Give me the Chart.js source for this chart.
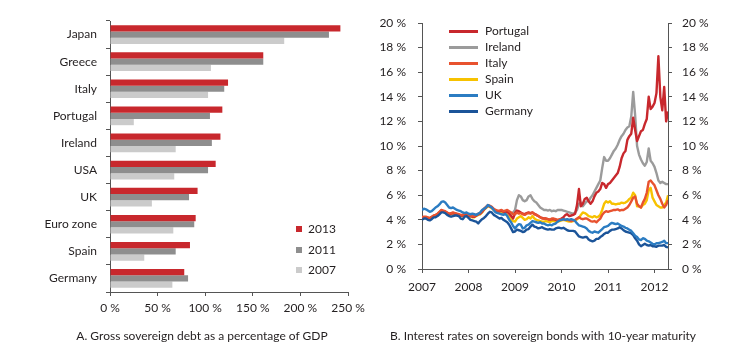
<!DOCTYPE html>
<html><head><meta charset="utf-8">
<script src="https://cdn.jsdelivr.net/npm/chart.js@4.4.1/dist/chart.umd.min.js"></script>
<style>
html,body{margin:0;padding:0;background:#fff;}
body{width:730px;height:357px;position:relative;overflow:hidden;font-family:Lato,sans-serif;color:#231f20;}
#wrapA{position:absolute;left:0;top:0;width:370px;height:357px;}
#wrapB{position:absolute;left:370px;top:0;width:360px;height:357px;}
.title{position:absolute;top:328px;font-size:12px;line-height:15px;white-space:nowrap;transform:translateX(-50%);}
.legA{position:absolute;left:296px;font-size:12px;line-height:14px;height:14px;}
.legA span{position:absolute;left:0;top:4px;width:6px;height:6px;}
.legA b{position:absolute;left:12px;top:0;font-weight:normal;}
.legB{position:absolute;left:449px;font-size:12px;line-height:14px;height:14px;white-space:nowrap;}
.legB span{position:absolute;left:0;top:6px;width:29px;height:3px;}
.legB b{position:absolute;left:36px;top:0;font-weight:normal;}
</style></head>
<body>
<div id="wrapA"><canvas id="cA" width="370" height="357"></canvas></div>
<div id="wrapB"><canvas id="cB" width="360" height="357"></canvas></div>
<div class="title" style="left:202px">A. Gross sovereign debt as a percentage of GDP</div>
<div class="title" style="left:543px">B. Interest rates on sovereign bonds with 10-year maturity</div>
<div id="legendA"></div>
<div id="legendB"></div>
<script>
// ---- Panel A data ----
const countries = ['Japan','Greece','Italy','Portugal','Ireland','USA','UK','Euro zone','Spain','Germany'];
const debt2013 = [242,161,124,118,116,111,92,90,84,78];
const debt2011 = [230,161,120,105,107,103,83,88.5,69,82];
const debt2007 = [183,106,103,25,69,67.5,44,66.5,36,65.5];
const debtTicks = [0,50,100,150,200,250];

// ---- Panel B data (semi-monthly, Jan 2007 - mid Apr 2012) ----
const years = [2007,2008,2009,2010,2011,2012];
const dates = Array.from({length:128},(_, i)=>2007 + i/24);
const portugal = [
 4.15,4.2,4.2,4.15,4.1,4.2,4.3,4.35,4.45,4.6,4.75,4.7,4.65,4.55,4.45,4.5,4.55,4.5,4.45,4.4,4.35,4.35,4.45,4.5,
 4.35,4.3,4.25,4.25,4.35,4.45,4.5,4.65,4.85,5.0,5.15,5.1,5.0,4.85,4.75,4.7,4.7,4.75,4.65,4.65,4.65,4.5,4.3,4.1,
 4.55,4.75,4.7,4.6,4.5,4.45,4.55,4.6,4.55,4.6,4.5,4.4,4.3,4.2,4.15,4.1,4.1,4.05,4.0,4.05,4.05,4.0,3.95,4.0,
 4.1,4.2,4.4,4.45,4.3,4.35,4.4,4.5,5.2,6.5,5.1,5.3,5.7,5.8,5.5,5.3,5.5,5.9,6.2,6.3,6.5,7.0,6.9,6.6,
 6.9,7.0,7.2,7.4,7.6,7.8,8.3,9.0,9.4,9.6,10.5,10.8,11.0,12.3,11.3,10.4,10.8,11.2,11.3,11.8,12.2,14.0,13.0,13.2,
 13.5,14.3,17.3,14.0,12.9,14.8,12.0,12.8];
const ireland = [
 4.15,4.2,4.2,4.15,4.1,4.2,4.3,4.35,4.45,4.6,4.75,4.7,4.65,4.55,4.45,4.5,4.55,4.5,4.45,4.4,4.35,4.35,4.45,4.5,
 4.35,4.3,4.25,4.25,4.35,4.45,4.5,4.65,4.85,5.0,5.15,5.1,5.0,4.85,4.75,4.7,4.7,4.75,4.65,4.7,4.7,4.6,4.5,4.6,
 4.8,5.6,6.0,5.9,5.6,5.5,5.6,5.9,6.0,5.7,5.5,5.4,5.2,5.0,4.9,4.8,4.8,4.75,4.8,4.7,4.75,4.7,4.8,4.8,
 4.8,4.75,4.7,4.65,4.6,4.55,4.5,4.6,4.8,5.3,5.4,5.1,5.3,5.5,5.5,5.8,6.0,6.3,6.6,6.9,7.2,8.2,9.1,8.8,
 8.8,9.0,9.3,9.6,9.8,10.1,10.5,10.8,11.0,11.3,11.5,11.6,12.4,14.4,12.5,10.0,9.3,8.9,8.6,8.4,8.7,9.8,8.8,8.6,
 8.3,7.8,7.2,7.0,7.1,7.0,6.9,6.9];
const italy = [
 4.2,4.25,4.25,4.2,4.15,4.25,4.35,4.4,4.5,4.65,4.8,4.75,4.7,4.6,4.5,4.55,4.6,4.55,4.5,4.45,4.4,4.4,4.5,4.55,
 4.4,4.35,4.3,4.3,4.4,4.5,4.55,4.7,4.9,5.05,5.2,5.15,5.05,4.9,4.8,4.75,4.75,4.8,4.7,4.75,4.8,4.7,4.6,4.45,
 4.45,4.6,4.5,4.55,4.45,4.4,4.5,4.55,4.5,4.6,4.45,4.4,4.3,4.2,4.1,4.1,4.1,4.05,4.0,4.1,4.1,4.05,4.0,4.05,
 4.0,4.05,4.0,4.0,3.95,3.9,3.95,4.0,4.1,4.2,4.1,4.05,4.1,4.1,4.0,3.9,3.85,3.9,3.8,3.95,4.1,4.4,4.6,4.7,
 4.65,4.7,4.75,4.8,4.8,4.85,4.75,4.8,4.8,4.9,5.0,5.2,5.5,5.8,5.9,5.3,5.1,5.0,5.4,5.7,6.2,7.1,7.2,7.0,
 6.8,6.4,6.0,5.7,5.3,5.0,5.2,5.6];
const spain = [
 4.1,4.15,4.15,4.1,4.05,4.15,4.25,4.3,4.4,4.55,4.7,4.65,4.6,4.5,4.4,4.45,4.5,4.45,4.4,4.35,4.3,4.3,4.4,4.45,
 4.3,4.25,4.2,4.2,4.3,4.4,4.45,4.6,4.8,4.95,5.1,5.05,4.95,4.8,4.7,4.65,4.6,4.65,4.55,4.5,4.4,4.2,4.0,3.9,
 3.85,4.1,4.2,4.3,4.15,4.0,4.05,4.2,4.1,4.3,4.1,4.0,3.95,3.9,3.85,3.85,3.9,3.85,3.8,3.9,3.9,3.85,3.85,3.9,
 3.95,4.0,3.95,3.9,3.85,3.85,3.9,3.95,4.05,4.15,4.4,4.6,4.55,4.45,4.3,4.25,4.2,4.3,4.2,4.25,4.4,4.8,5.3,5.5,
 5.4,5.5,5.3,5.3,5.25,5.3,5.3,5.4,5.35,5.4,5.5,5.7,5.8,6.2,6.0,5.1,5.1,5.0,5.2,5.3,5.6,6.4,6.6,5.8,
 5.5,5.2,5.1,5.0,5.0,5.2,5.4,6.0];
const uk = [
 4.8,4.9,4.85,4.75,4.65,4.7,4.85,5.0,5.1,5.25,5.45,5.5,5.4,5.2,5.0,4.95,5.0,4.9,4.8,4.75,4.7,4.6,4.55,4.6,
 4.5,4.45,4.5,4.45,4.4,4.5,4.6,4.8,4.9,5.0,5.2,5.1,5.0,4.8,4.6,4.55,4.5,4.45,4.4,4.5,4.3,4.0,3.8,3.5,
 3.3,3.5,3.65,3.6,3.3,3.35,3.55,3.6,3.75,3.9,3.85,3.8,3.75,3.8,3.7,3.7,3.6,3.55,3.6,3.55,3.65,3.7,3.85,3.95,
 4.0,4.05,4.0,4.05,4.0,4.05,4.0,3.9,3.7,3.55,3.5,3.45,3.4,3.3,3.1,3.0,2.95,3.05,3.0,2.95,3.1,3.25,3.4,3.45,
 3.5,3.65,3.75,3.7,3.65,3.7,3.6,3.5,3.45,3.35,3.3,3.2,3.1,2.9,2.7,2.6,2.4,2.35,2.5,2.45,2.3,2.25,2.15,2.05,
 2.0,2.1,2.1,2.15,2.2,2.3,2.1,2.1];
const germany = [
 4.0,4.1,4.1,4.0,3.95,4.05,4.2,4.2,4.3,4.45,4.6,4.6,4.55,4.4,4.3,4.25,4.3,4.35,4.35,4.3,4.1,4.05,4.25,4.3,
 4.15,4.0,3.95,3.9,3.85,3.7,3.9,4.05,4.15,4.3,4.5,4.65,4.6,4.4,4.3,4.2,4.1,4.15,4.0,3.9,3.8,3.6,3.3,3.0,
 3.05,3.2,3.15,3.1,3.0,3.05,3.2,3.25,3.45,3.6,3.45,3.4,3.3,3.35,3.4,3.3,3.25,3.2,3.25,3.2,3.2,3.3,3.35,3.35,
 3.3,3.35,3.25,3.15,3.1,3.1,3.1,3.05,2.85,2.65,2.6,2.55,2.6,2.6,2.4,2.3,2.25,2.3,2.45,2.45,2.6,2.7,2.85,2.95,
 2.95,3.1,3.2,3.2,3.25,3.3,3.4,3.3,3.15,3.05,3.0,2.95,2.9,2.75,2.5,2.3,2.0,1.85,1.95,2.05,1.95,1.9,1.95,1.85,
 1.85,1.8,1.9,1.9,1.9,1.95,1.8,1.75];
const rateTicks = [0,2,4,6,8,10,12,14,16,18,20];

const FONT = {family:'Lato', size:12};
const TXT = '#231f20';
const AX = '#555555';

// ---- Panel A ----
const barSeries = [
  {label:'2013', data:debt2013, color:'#c8282d'},
  {label:'2011', data:debt2011, color:'#8e8e8e'},
  {label:'2007', data:debt2007, color:'#cbcbcb'}
];
new Chart(document.getElementById('cA'), {
  type:'bar',
  data:{labels:countries, datasets:barSeries.map(s=>({label:s.label,data:s.data,backgroundColor:s.color,borderWidth:0,categoryPercentage:0.69,barPercentage:1.0}))},
  options:{
    indexAxis:'y', responsive:false, animation:false,
    layout:{padding:{top:21,right:22,left:0,bottom:0}},
    plugins:{legend:{display:false}, tooltip:{enabled:false}},
    scales:{
      x:{min:debtTicks[0], max:debtTicks[debtTicks.length-1],
         afterBuildTicks:s=>{s.ticks = debtTicks.map(v=>({value:v}));},
         ticks:{callback:v=>v+' %', color:TXT, font:FONT, padding:5, maxRotation:0},
         grid:{drawOnChartArea:false, drawTicks:true, tickLength:4, color:AX},
         border:{color:AX, width:1},
         afterFit:s=>{s.height=65;}},
      y:{ticks:{color:TXT, font:FONT, padding:9},
         grid:{offset:true, drawOnChartArea:false, drawTicks:true, tickLength:4, color:AX},
         border:{color:AX, width:1},
         afterFit:s=>{s.width=110;}}
    }
  }
});
const legA = document.getElementById('legendA');
barSeries.forEach((s,i)=>{
  const d = document.createElement('div');
  d.className='legA'; d.style.top = (222 + i*20.5)+'px';
  d.innerHTML = '<span style="background:'+s.color+'"></span><b>'+s.label+'</b>';
  legA.appendChild(d);
});

// ---- Panel B ----
const lineSeries = [
  {label:'Portugal', data:portugal, color:'#c8282d', order:3},
  {label:'Ireland', data:ireland, color:'#9b9b9b', order:4},
  {label:'Italy', data:italy, color:'#e8522f', order:2},
  {label:'Spain', data:spain, color:'#f7c200', order:5},
  {label:'UK', data:uk, color:'#2b7cc2', order:0},
  {label:'Germany', data:germany, color:'#1b5499', order:1}
];
const yAxisCommon = {
  min:0, max:20,
  afterBuildTicks:s=>{s.ticks = rateTicks.map(v=>({value:v}));},
  grid:{drawOnChartArea:false, drawTicks:true, tickLength:4, color:AX},
  border:{color:AX, width:1}
};
new Chart(document.getElementById('cB'), {
  type:'line',
  data:{datasets:lineSeries.map(s=>({label:s.label, order:s.order,
     data:dates.map((d,i)=>({x:d, y:s.data[i]})),
     borderColor:s.color, backgroundColor:s.color, borderWidth:2.4, pointRadius:0, tension:0, fill:false,
     borderJoinStyle:'round'}))},
  options:{
    responsive:false, animation:false,
    layout:{padding:{top:23,left:0,right:0,bottom:0}},
    plugins:{legend:{display:false}, tooltip:{enabled:false}},
    scales:{
      x:{type:'linear', min:2007, max:2012.29,
         afterBuildTicks:s=>{s.ticks = years.map(v=>({value:v}));},
         ticks:{callback:v=>String(v), color:TXT, font:FONT, padding:7, maxRotation:0},
         grid:{drawOnChartArea:false, drawTicks:true, tickLength:4, color:AX},
         border:{color:AX, width:1},
         afterFit:s=>{s.height=88;}},
      y:Object.assign({position:'left',
         ticks:{callback:v=>v+' %', color:TXT, font:FONT, padding:12},
         afterFit:s=>{s.width=52;}}, yAxisCommon),
      y2:Object.assign({position:'right',
         ticks:{callback:v=>v+' %', color:TXT, font:FONT, padding:10},
         afterFit:s=>{s.width=62;}}, yAxisCommon)
    }
  }
});
const legB = document.getElementById('legendB');
lineSeries.forEach((s,i)=>{
  const d = document.createElement('div');
  d.className='legB'; d.style.top = (24 + i*15.9)+'px';
  d.innerHTML = '<span style="background:'+s.color+'"></span><b>'+s.label+'</b>';
  legB.appendChild(d);
});
</script>
</body></html>
